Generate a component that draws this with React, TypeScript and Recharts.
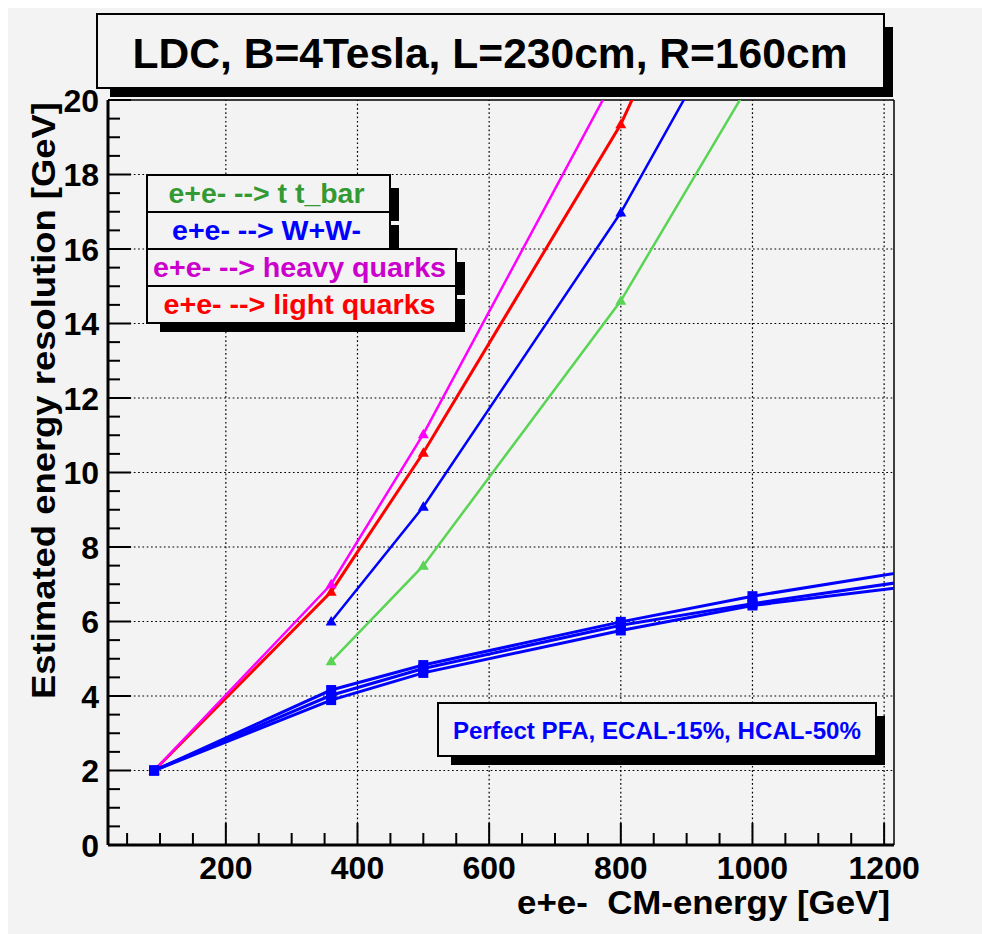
import { LineChart, Line, XAxis, YAxis, ReferenceLine } from 'recharts';

// energy points (GeV) and estimated resolution (GeV)
const lightQuarksE = [91, 360, 500, 800, 1000];
const lightQuarksRes = [2.0, 6.8, 10.53, 19.35, 27.0];
const heavyQuarksE = [91, 360, 500, 800];
const heavyQuarksRes = [2.0, 7.0, 11.03, 20.9];
const wwE = [360, 500, 800, 1000];
const wwRes = [6.0, 9.08, 16.98, 23.3];
const ttbarE = [360, 500, 800, 1000];
const ttbarRes = [4.93, 7.5, 14.61, 20.57];
const pfaE = [91, 360, 500, 800, 1000, 1500];
const pfaRes1 = [2.0, 4.16, 4.83, 5.99, 6.68, 8.09];
const pfaRes2 = [2.0, 4.02, 4.74, 5.9, 6.48, 7.76];
const pfaRes3 = [2.0, 3.89, 4.62, 5.76, 6.43, 7.5];

const xDomain = [21, 1215];
const yDomain = [0, 20];
const xTicks = [
  50, 100, 150, 200, 250, 300, 350, 400, 450, 500, 550, 600,
  650, 700, 750, 800, 850, 900, 950, 1000, 1050, 1100, 1150, 1200,
];
const xMajor = [200, 400, 600, 800, 1000, 1200];
const yTicks = [
  0, 0.5, 1, 1.5, 2, 2.5, 3, 3.5, 4, 4.5, 5, 5.5, 6, 6.5, 7, 7.5, 8, 8.5, 9, 9.5, 10,
  10.5, 11, 11.5, 12, 12.5, 13, 13.5, 14, 14.5, 15, 15.5, 16, 16.5, 17, 17.5, 18, 18.5, 19, 19.5, 20,
];
const yMajor = [0, 2, 4, 6, 8, 10, 12, 14, 16, 18, 20];
const gridX = [200, 400, 600, 800, 1000, 1200];
const gridY = [2, 4, 6, 8, 10, 12, 14, 16, 18];

const legendRows = [
  { label: 'e+e- --> t t_bar', color: '#339933', w: 243, len: 196 },
  { label: 'e+e- --> W+W-', color: '#0000ff', w: 243, len: 189 },
  { label: 'e+e- --> heavy quarks', color: '#cc00cc', w: 309, len: 293 },
  { label: 'e+e- --> light quarks', color: '#ff0000', w: 309, len: 272 },
];

const FONT = "'Liberation Sans', Arial, Helvetica, sans-serif";
const BG = '#f3f3f3';

const pts = (xs: number[], ys: number[]) => xs.map((x, i) => ({ x, y: ys[i] }));

const triangleDot = (color: string) => (p: any) => {
  const { cx, cy, index } = p;
  if (cx == null || cy == null) return <g key={index} />;
  return (
    <path
      key={index}
      d={`M${cx},${cy - 5.5} L${cx + 5.5},${cy + 4} L${cx - 5.5},${cy + 4} Z`}
      fill={color}
    />
  );
};

const squareDot = (p: any) => {
  const { cx, cy, index } = p;
  if (cx == null || cy == null) return <g key={index} />;
  return <rect key={index} x={cx - 5} y={cy - 5} width={10} height={10} fill="#0000ff" />;
};

function YTick({ x, y, payload }: any) {
  const major = yMajor.includes(payload.value);
  return (
    <g>
      <line x1={x} x2={x + (major ? 23 : 12)} y1={y} y2={y} stroke="#000" strokeWidth={2} />
      {major && (
        <text x={x - 9} y={y + 11.5} textAnchor="end" fontSize={32} fontWeight="bold" fontFamily={FONT} fill="#000">
          {payload.value}
        </text>
      )}
    </g>
  );
}

function XTick({ x, y, payload }: any) {
  const major = xMajor.includes(payload.value);
  return (
    <g>
      <line x1={x} x2={x} y1={y} y2={y - (major ? 22 : 12)} stroke="#000" strokeWidth={2} />
      {major && (
        <text x={x} y={y + 34} textAnchor="middle" fontSize={32} fontWeight="bold" fontFamily={FONT} fill="#000">
          {payload.value}
        </text>
      )}
    </g>
  );
}

function Pave({ x, y, w, h }: { x: number; y: number; w: number; h: number }) {
  return (
    <g>
      <rect x={x + 13} y={y + 13} width={w - 4} height={h - 4} fill="#000" />
      <rect x={x} y={y} width={w} height={h} fill={BG} stroke="#000" strokeWidth={2} />
    </g>
  );
}

export default function App() {
  const legendX = 139;
  const legendY = 167;
  const rowH = 37;

  return (
    <div style={{ position: 'fixed', left: 8, top: 8, width: 974, height: 926, background: BG }}>
      <LineChart
        width={974}
        height={926}
        margin={{ top: 92, right: 88, left: 40, bottom: 29 }}
      >
        <XAxis
          type="number"
          dataKey="x"
          domain={xDomain}
          allowDataOverflow
          ticks={xTicks}
          interval={0}
          height={60}
          tickSize={0}
          tickMargin={0}
          tickLine={false}
          tick={<XTick />}
          axisLine={{ stroke: '#000', strokeWidth: 3 }}
        />
        <YAxis
          type="number"
          domain={yDomain}
          allowDataOverflow
          ticks={yTicks}
          interval={0}
          width={60}
          tickSize={0}
          tickMargin={0}
          tickLine={false}
          tick={<YTick />}
          axisLine={{ stroke: '#000', strokeWidth: 3 }}
        />
        {gridY.map((v) => (
          <ReferenceLine key={`gy${v}`} y={v} stroke="#000" strokeWidth={1.2} strokeDasharray="1.7 2.6" />
        ))}
        {gridX.map((v) => (
          <ReferenceLine key={`gx${v}`} x={v} stroke="#000" strokeWidth={1.2} strokeDasharray="1.7 2.6" />
        ))}
        <ReferenceLine y={yDomain[1]} stroke="#000" strokeWidth={1.5} />
        <ReferenceLine x={xDomain[1]} stroke="#000" strokeWidth={1.5} />

        <Line
          data={pts(lightQuarksE, lightQuarksRes)}
          dataKey="y"
          type="linear"
          stroke="#ff0000"
          strokeWidth={3}
          dot={triangleDot('#ff0000')}
          activeDot={false}
          isAnimationActive={false}
        />
        <Line
          data={pts(heavyQuarksE, heavyQuarksRes)}
          dataKey="y"
          type="linear"
          stroke="#ff00ff"
          strokeWidth={2.5}
          dot={triangleDot('#ff00ff')}
          activeDot={false}
          isAnimationActive={false}
        />
        <Line
          data={pts(wwE, wwRes)}
          dataKey="y"
          type="linear"
          stroke="#0000ff"
          strokeWidth={2.5}
          dot={triangleDot('#0000ff')}
          activeDot={false}
          isAnimationActive={false}
        />
        <Line
          data={pts(ttbarE, ttbarRes)}
          dataKey="y"
          type="linear"
          stroke="#59d454"
          strokeWidth={2.5}
          dot={triangleDot('#59d454')}
          activeDot={false}
          isAnimationActive={false}
        />
        {[pfaRes1, pfaRes2, pfaRes3].map((res, i) => (
          <Line
            key={`pfa${i}`}
            data={pts(pfaE, res)}
            dataKey="y"
            type="linear"
            stroke="#0000ff"
            strokeWidth={3}
            dot={squareDot}
            activeDot={false}
            isAnimationActive={false}
          />
        ))}
      </LineChart>

      <svg
        width={974}
        height={926}
        style={{ position: 'absolute', left: 0, top: 0, pointerEvents: 'none' }}
        fontFamily={FONT}
        fontWeight="bold"
      >
        <Pave x={89} y={6} w={787} h={74} />
        <text x={482} y={60} textAnchor="middle" fontSize={42} textLength={715} lengthAdjust="spacingAndGlyphs" fill="#000">
          LDC, B=4Tesla, L=230cm, R=160cm
        </text>

        {legendRows.map((r, i) => (
          <g key={r.label}>
            <Pave x={legendX} y={legendY + i * rowH} w={r.w} h={rowH} />
            <text
              x={legendX + r.w / 2 - 2}
              y={legendY + i * rowH + rowH / 2 + 9.5}
              textAnchor="middle"
              fontSize={28}
              textLength={r.len}
              lengthAdjust="spacingAndGlyphs"
              fill={r.color}
            >
              {r.label}
            </text>
          </g>
        ))}

        <Pave x={430} y={695} w={438} h={53} />
        <text x={649} y={730.5} textAnchor="middle" fontSize={24} textLength={408} lengthAdjust="spacingAndGlyphs" fill="#0000ff">
          Perfect PFA, ECAL-15%, HCAL-50%
        </text>

        <text
          x={882}
          y={906}
          textAnchor="end"
          fontSize={34}
          textLength={373}
          lengthAdjust="spacingAndGlyphs"
          fill="#000"
          style={{ whiteSpace: 'pre' }}
        >
          {'e+e-  CM-energy [GeV]'}
        </text>
        <text
          transform="translate(47,94) rotate(-90)"
          textAnchor="end"
          fontSize={34}
          textLength={597}
          lengthAdjust="spacingAndGlyphs"
          fill="#000"
        >
          Estimated energy resolution [GeV]
        </text>
      </svg>
    </div>
  );
}
